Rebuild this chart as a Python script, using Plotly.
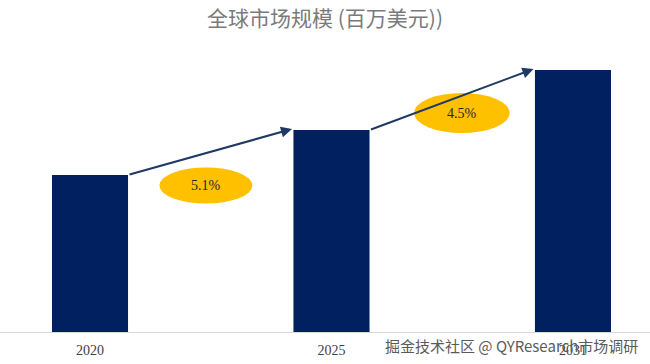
import plotly.graph_objects as go

# ---- data ----
years = ["2020", "2025", "2031"]
market_size = [157, 202, 262]          # relative market size (million USD)
cagr_labels = ["5.1%", "4.5%"]
title_text = "全球市场规模 (百万美元))"
watermark = "掘金技术社区 @ QYResearch市场调研"

BAR_COLOR = "#002060"
ARROW_COLOR = "#1F3864"
ELLIPSE_COLOR = "#FFC000"

bar_w = 0.315
fig = go.Figure()
fig.add_trace(go.Bar(x=years, y=market_size, marker_color=BAR_COLOR,
                     marker_line_width=0, width=bar_w, hoverinfo="x+y"))

# arrows between bar tops, with CAGR ellipses
label_offsets = [(-0.02, -33), (0.04, -13)]
ell_w, ell_h = [0.385, 0.395], [36, 40]
for i in range(len(years) - 1):
    x0 = i + bar_w / 2
    x1 = i + 1 - bar_w / 2 - 0.006
    y0, y1 = market_size[i], market_size[i + 1]
    fig.add_annotation(x=x1, y=y1 + 1, ax=x0, ay=y0, xref="x", yref="y",
                       axref="x", ayref="y", showarrow=True, arrowhead=2,
                       arrowsize=1.1, arrowwidth=2, arrowcolor=ARROW_COLOR, text="")
    cx = (i + 0.5) + label_offsets[i][0]
    cy = (y0 + y1) / 2 + label_offsets[i][1]
    fig.add_shape(type="circle", xref="x", yref="y",
                  x0=cx - ell_w[i] / 2, x1=cx + ell_w[i] / 2,
                  y0=cy - ell_h[i] / 2, y1=cy + ell_h[i] / 2,
                  fillcolor=ELLIPSE_COLOR, line_width=0, layer="above")
    fig.add_annotation(x=cx, y=cy, xref="x", yref="y", text=cagr_labels[i],
                       showarrow=False,
                       font=dict(family="Liberation Serif", size=14, color="#262626"))

fig.add_annotation(text=watermark, xref="paper", yref="paper", x=0.985, y=-0.05,
                   xanchor="right", yanchor="middle", showarrow=False,
                   font=dict(family="Noto Sans CJK SC", size=15, color="#5a5a5a"))

fig.update_layout(
    width=650, height=364,
    margin=dict(l=0, r=0, t=60, b=32),
    paper_bgcolor="white", plot_bgcolor="white",
    showlegend=False,
    title=dict(text=title_text, x=0.5, xanchor="center", y=0.95, yanchor="middle",
               font=dict(family="Noto Sans CJK SC", size=21, color="#7a7a7a")),
    xaxis=dict(type="category", range=[-0.3727, 2.319], showgrid=False,
               showline=True, linecolor="#D9D9D9", linewidth=1, ticks="",
               ticklabelstandoff=5,
               tickfont=dict(family="Liberation Serif", size=14, color="#404040"),
               fixedrange=True),
    yaxis=dict(range=[0, 272], visible=False, fixedrange=True),
)

fig.write_html("out.html", config={"displayModeBar": False},
               post_script="document.body.style.margin='0';")
